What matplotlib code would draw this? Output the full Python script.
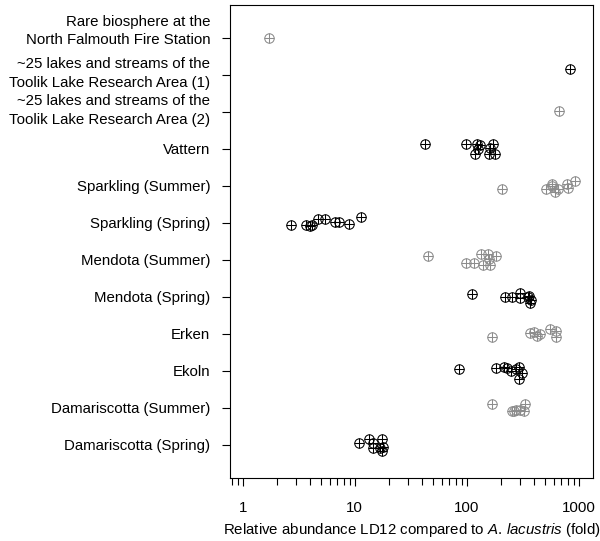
import matplotlib.pyplot as plt
import matplotlib.transforms as mtrans
import numpy as np

plt.rcParams['font.family'] = ['Liberation Sans', 'DejaVu Sans']
plt.rcParams['mathtext.fontset'] = 'custom'
plt.rcParams['mathtext.it'] = 'Liberation Sans:italic'
plt.rcParams['mathtext.rm'] = 'Liberation Sans'

# sites, top to bottom
sites = ["Rare biosphere at the\nNorth Falmouth Fire Station",
         "~25 lakes and streams of the\nToolik Lake Research Area (1)",
         "~25 lakes and streams of the\nToolik Lake Research Area (2)",
         "Vattern", "Sparkling (Summer)", "Sparkling (Spring)",
         "Mendota (Summer)", "Mendota (Spring)", "Erken", "Ekoln",
         "Damariscotta (Summer)", "Damariscotta (Spring)"]
dark = [False, True, False, True, False, True, False, True, False, True, False, True]

# fold values
vals = [
    [1.7],
    [830],
    [665],
    [42, 98, 123, 125, 130, 118, 160, 170, 158, 178],
    [205, 507, 575, 580, 610, 650, 780, 800, 920],
    [2.7, 3.65, 4.0, 4.15, 4.7, 5.4, 6.6, 7.3, 8.8, 11.3],
    [45, 98, 115, 133, 140, 155, 157, 160, 182],
    [111, 218, 252, 297, 300, 350, 357, 372, 365],
    [167, 365, 400, 425, 450, 550, 620, 625],
    [85, 182, 213, 230, 250, 275, 290, 310, 290],
    [167, 252, 265, 275, 300, 330, 325],
    [10.9, 13.3, 14.5, 14.5, 17.4, 16.8, 18, 17.5],
]
# vertical jitter (fraction of a row, positive = down)
jit = [
    [0],
    [-0.16],
    [-0.03],
    [-0.13, -0.13, -0.13, 0, -0.1, 0.13, -0.03, -0.13, 0.13, 0.13],
    [0.1, 0.1, -0.05, 0, 0.16, 0.08, -0.05, 0.05, -0.13],
    [0.05, 0.05, 0.1, 0.05, -0.1, -0.1, -0.03, -0.03, 0.03, -0.16],
    [-0.1, 0.1, 0.08, -0.16, 0.13, -0.16, -0.03, 0.13, -0.1],
    [-0.08, 0, 0, -0.1, 0.03, 0, -0.03, 0.1, 0.16],
    [0.08, -0.03, -0.05, 0.05, 0, -0.13, -0.08, 0.1],
    [-0.05, -0.08, -0.1, -0.08, 0, -0.05, -0.1, 0.05, 0.21],
    [-0.1, 0.08, 0.1, 0.05, 0.05, -0.1, 0.08],
    [-0.05, -0.16, -0.05, 0.1, -0.16, 0.1, 0.05, 0.16],
]

fig = plt.figure(figsize=(6, 5.41), dpi=100)
ax = fig.add_axes([0.383, 0.117, 0.605, 0.874])
n = len(sites)
for i in range(n):
    x = np.array(vals[i])
    y = (n - 1 - i) - np.array(jit[i])
    c = 'black' if dark[i] else '#8c8c8c'
    ax.plot(x, y, 'o', ms=6.8, mfc='none', mec=c, mew=0.75, ls='none')
    ax.plot(x, y, '+', ms=6.8, mec=c, mew=0.75, ls='none')

ax.set_xscale('log')
ax.set_xlim(10**-0.116, 10**3.125)
ax.set_ylim(-0.89, n - 1 + 0.89)
ax.set_yticks(range(n))
ax.set_yticklabels(sites[::-1], fontsize=10.8, linespacing=1.4)
ax.set_xticks([1, 10, 100, 1000])
ax.set_xticklabels(['1', '10', '100', '1000'], fontsize=10.8)
ax.tick_params(axis='y', length=6, width=0.8, pad=8)
ax.tick_params(axis='x', which='major', length=6, width=0.8, pad=11)
ax.tick_params(axis='x', which='minor', length=5, width=0.8)
for s in ax.spines.values():
    s.set_linewidth(0.8)
# nudge the two-line labels to where they sit in the original
for lab in ax.get_yticklabels():
    t = lab.get_text()
    if t.startswith('Rare'):
        dy = -7.7
    elif '\n' in t:
        dy = -3.6
    else:
        dy = 0
    lab.set_transform(lab.get_transform() + mtrans.ScaledTranslation(0, -dy / 72, fig.dpi_scale_trans))
ax.set_xlabel('Relative abundance LD12 compared to $\\mathit{A.\\,lacustris}$ (fold)', fontsize=10.8, labelpad=4)
fig.savefig('out.png', dpi=100)
